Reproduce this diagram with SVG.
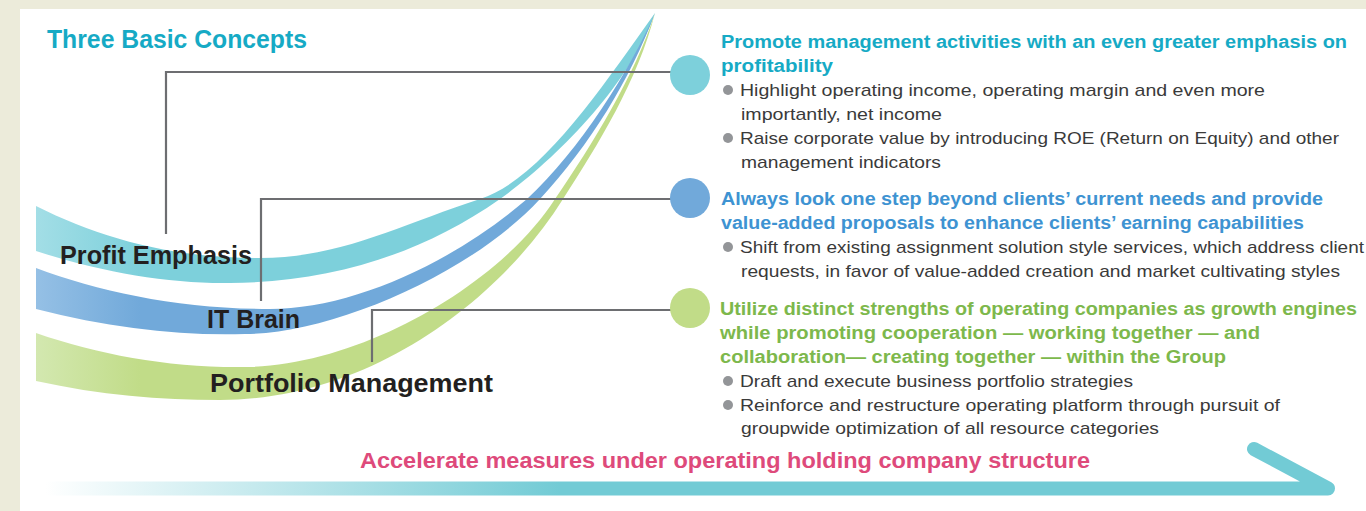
<svg xmlns="http://www.w3.org/2000/svg" width="1366" height="511" viewBox="0 0 1366 511">
<defs>
<linearGradient id="gTeal" gradientUnits="userSpaceOnUse" x1="36" y1="0" x2="140" y2="0"><stop offset="0" stop-color="#A3DEE6"/><stop offset="1" stop-color="#7DD0DB"/></linearGradient>
<linearGradient id="gBlue" gradientUnits="userSpaceOnUse" x1="36" y1="0" x2="140" y2="0"><stop offset="0" stop-color="#95C0E5"/><stop offset="1" stop-color="#71A9DA"/></linearGradient>
<linearGradient id="gGreen" gradientUnits="userSpaceOnUse" x1="36" y1="0" x2="140" y2="0"><stop offset="0" stop-color="#D3E8B0"/><stop offset="1" stop-color="#C1DC88"/></linearGradient>
<linearGradient id="gArrow" gradientUnits="userSpaceOnUse" x1="45" y1="0" x2="560" y2="0"><stop offset="0" stop-color="#FFFFFF"/><stop offset="1" stop-color="#72CBD5"/></linearGradient>
</defs>
<style>
.lbl{font-family:"Liberation Sans",Arial,sans-serif;font-weight:bold;font-size:25px;fill:#231F20}
.hd{font-family:"Liberation Sans",Arial,sans-serif;font-weight:bold;font-size:18px}
.bt{font-family:"Liberation Sans",Arial,sans-serif;font-size:17px;fill:#3A3A3A}
.dot{fill:#939598}
.conn{fill:none;stroke:#6D6E71;stroke-width:2.2}
</style>
<rect x="0" y="0" width="1366" height="511" fill="#ECEBDA"/>
<rect x="20" y="9" width="1346" height="502" fill="#FFFFFF"/>
<text x="47" y="48" font-family="Liberation Sans, Arial, sans-serif" font-weight="bold" font-size="25" fill="#16AAC5" textLength="260" lengthAdjust="spacingAndGlyphs">Three Basic Concepts</text>

<g id="band-profit">
<path fill="url(#gTeal)" d="M 36 206 C 100 238 170 258 260 258 C 340 258 400 225 480 199 C 540 180 600 90 655 13 C 630 85 555 160 500 199 C 420 255 330 282 230 283 C 170 284 100 272 36 251 Z"/>
</g>
<g id="band-it">
<path fill="url(#gBlue)" d="M 36 268 C 100 292 180 309 270 309 C 350 309 450 265 527 199 C 580 150 630 70 655 13 C 630 80 590 145 540 199 C 470 275 330 334 245 334 C 180 336 110 328 36 309 Z"/>
</g>
<g id="band-portfolio">
<path fill="url(#gGreen)" d="M 36 333 C 100 355 170 368 245 367 C 360 366 500 285 555 199 C 592 145 635 75 655 13 C 638 80 598 145 563 199 C 500 300 370 400 220 400 C 160 400 100 395 36 381 Z"/>
</g>

<g id="connectors">
<polyline class="conn" points="166,234 166,72 671,72"/>
<polyline class="conn" points="261,301 261,199 671,199"/>
<polyline class="conn" points="372,362 372,310 671,310"/>
</g>

<g id="node-profit">
<text class="lbl" x="60" y="264" textLength="192" lengthAdjust="spacingAndGlyphs">Profit Emphasis</text>
<circle cx="690" cy="75" r="20" fill="#7DD0DB"/>
<text class="hd" fill="#16AAC5" x="721" y="48" textLength="626" lengthAdjust="spacingAndGlyphs">Promote management activities with an even greater emphasis on</text>
<text class="hd" fill="#16AAC5" x="721" y="72" textLength="112" lengthAdjust="spacingAndGlyphs">profitability</text>
<circle class="dot" cx="728" cy="90" r="5"/>
<text class="bt" x="740" y="96" textLength="525" lengthAdjust="spacingAndGlyphs">Highlight operating income, operating margin and even more</text>
<text class="bt" x="741" y="120" textLength="201" lengthAdjust="spacingAndGlyphs">importantly, net income</text>
<circle class="dot" cx="728" cy="138" r="5"/>
<text class="bt" x="740" y="144" textLength="599" lengthAdjust="spacingAndGlyphs">Raise corporate value by introducing ROE (Return on Equity) and other</text>
<text class="bt" x="741" y="168" textLength="200" lengthAdjust="spacingAndGlyphs">management indicators</text>
</g>

<g id="node-it">
<text class="lbl" x="207" y="328" textLength="93" lengthAdjust="spacingAndGlyphs">IT Brain</text>
<circle cx="690" cy="198" r="20" fill="#71A9DA"/>
<text class="hd" fill="#3E93D2" x="721" y="205" textLength="602" lengthAdjust="spacingAndGlyphs">Always look one step beyond clients’ current needs and provide</text>
<text class="hd" fill="#3E93D2" x="721" y="229" textLength="583" lengthAdjust="spacingAndGlyphs">value-added proposals to enhance clients’ earning capabilities</text>
<circle class="dot" cx="728" cy="247" r="5"/>
<text class="bt" x="740" y="253" textLength="624" lengthAdjust="spacingAndGlyphs">Shift from existing assignment solution style services, which address client</text>
<text class="bt" x="741" y="277" textLength="599" lengthAdjust="spacingAndGlyphs">requests, in favor of value-added creation and market cultivating styles</text>
</g>

<g id="node-portfolio">
<text class="lbl" x="210" y="392" textLength="283" lengthAdjust="spacingAndGlyphs">Portfolio Management</text>
<circle cx="690" cy="308" r="20" fill="#C1DC88"/>
<text class="hd" fill="#7DB84C" x="720" y="315" textLength="637" lengthAdjust="spacingAndGlyphs">Utilize distinct strengths of operating companies as growth engines</text>
<text class="hd" fill="#7DB84C" x="720" y="339" textLength="540" lengthAdjust="spacingAndGlyphs">while promoting cooperation — working together — and</text>
<text class="hd" fill="#7DB84C" x="720" y="363" textLength="506" lengthAdjust="spacingAndGlyphs">collaboration— creating together — within the Group</text>
<circle class="dot" cx="728" cy="381" r="5"/>
<text class="bt" x="740" y="387" textLength="393" lengthAdjust="spacingAndGlyphs">Draft and execute business portfolio strategies</text>
<circle class="dot" cx="728" cy="405" r="5"/>
<text class="bt" x="740" y="411" textLength="540" lengthAdjust="spacingAndGlyphs">Reinforce and restructure operating platform through pursuit of</text>
<text class="bt" x="741" y="434" textLength="418" lengthAdjust="spacingAndGlyphs">groupwide optimization of all resource categories</text>
</g>

<g id="accelerate">
<text x="360" y="468" font-family="Liberation Sans, Arial, sans-serif" font-weight="bold" font-size="22" fill="#DE4A7B" textLength="730" lengthAdjust="spacingAndGlyphs">Accelerate measures under operating holding company structure</text>
<path d="M 48 488.5 L 1328 488.5 L 1254 449" fill="none" stroke="url(#gArrow)" stroke-width="14" stroke-linecap="round" stroke-linejoin="round"/>
</g>
</svg>
